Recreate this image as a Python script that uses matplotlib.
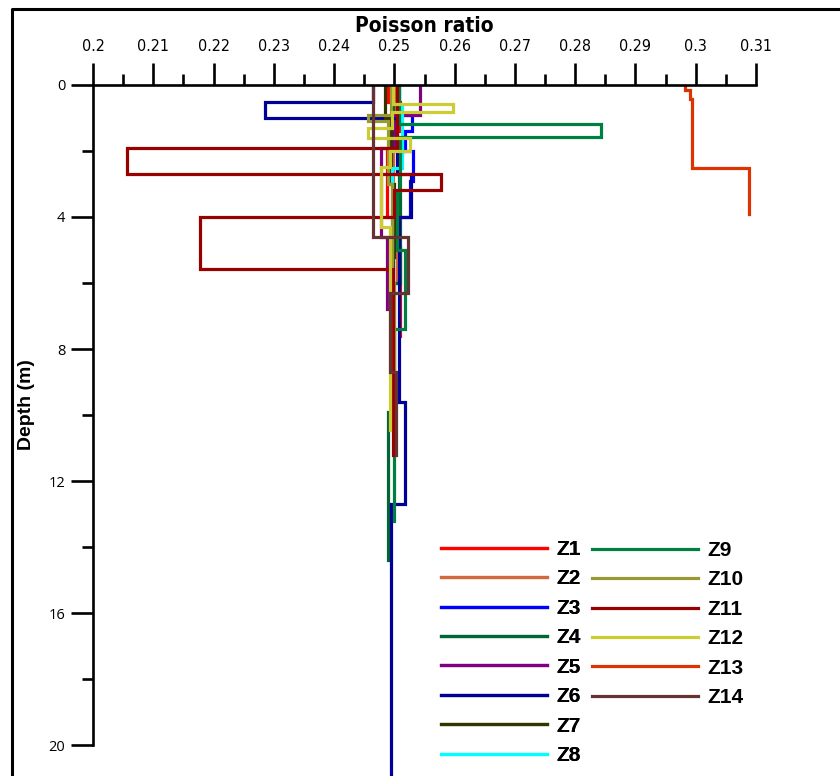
import numpy as np
import matplotlib
matplotlib.use("Agg")
from matplotlib import pyplot as plt
from matplotlib.lines import Line2D

# layer tops/bottoms (m) and Poisson ratio of each layer, per profile
names = ["Z1", "Z2", "Z3", "Z4", "Z5", "Z6", "Z7", "Z8",
         "Z9", "Z10", "Z11", "Z12", "Z13", "Z14"]
colors = ["#ff0000", "#d2693c", "#0000ff", "#006633", "#800080", "#000099", "#333300", "#00ffff",
          "#008040", "#999933", "#990000", "#cccc33", "#dd3300", "#663333"]

depths = {
    "Z1":  [0, 0.5, 1.4, 2.0, 4.0, 4.9, 7.6],
    "Z2":  [0, 1.5, 3.5, 6.0],
    "Z3":  [0, 0.9, 1.4, 2.0, 2.9, 4.0, 5.9],
    "Z4":  [0, 1.8, 3.2, 6.0, 9.9, 14.4],
    "Z5":  [0, 0.9, 1.9, 4.6, 6.8],
    "Z6":  [0, 0.5, 1.0, 2.7, 4.0, 9.6, 12.7, 21.5],
    "Z7":  [0, 1.0, 3.0, 5.2, 8.0],
    "Z8":  [0, 0.6, 2.5, 5.3],
    "Z9":  [0, 1.18, 1.58, 3.2, 5.0, 7.4, 13.2],
    "Z10": [0, 0.9, 1.1, 3.0, 6.0, 9.0],
    "Z11": [0, 1.9, 2.7, 3.18, 4.0, 5.58, 11.2],
    "Z12": [0, 0.58, 0.82, 1.3, 1.61, 2.0, 2.48, 4.3, 10.45],
    "Z13": [0, 0.15, 0.42, 2.52, 3.9],
    "Z14": [0, 4.6, 6.3, 8.7, 11.2],
}
ratios = {
    "Z1":  [0.2490, 0.2510, 0.2515, 0.2488, 0.2500, 0.2509],
    "Z2":  [0.2503, 0.2497, 0.2505],
    "Z3":  [0.2508, 0.2530, 0.2518, 0.2531, 0.2526, 0.2497],
    "Z4":  [0.2498, 0.2507, 0.2510, 0.2500, 0.2490],
    "Z5":  [0.2543, 0.2500, 0.2478, 0.2488],
    "Z6":  [0.2464, 0.2285, 0.2505, 0.2528, 0.2508, 0.2518, 0.2495],
    "Z7":  [0.2485, 0.2495, 0.2500, 0.2497],
    "Z8":  [0.2508, 0.2513, 0.2496],
    "Z9":  [0.2508, 0.2843, 0.2510, 0.2505, 0.2518, 0.2500],
    "Z10": [0.2495, 0.2456, 0.2490, 0.2496, 0.2500],
    "Z11": [0.2505, 0.2056, 0.2577, 0.2500, 0.2177, 0.2497],
    "Z12": [0.2497, 0.2597, 0.2496, 0.2456, 0.2526, 0.2492, 0.2478, 0.2492],
    "Z13": [0.2983, 0.2991, 0.2994, 0.3089],
    "Z14": [0.2464, 0.2523, 0.2493, 0.2503],
}

xticks = np.round(np.arange(0.2, 0.3101, 0.01), 2)
yticks = [0, 4, 8, 12, 16, 20]

fig = plt.figure(figsize=(8.4, 7.76), dpi=100)
ax = fig.add_axes([93 / 840, 0, 663 / 840, 691 / 776])

handles = []
for name, col in zip(names, colors):
    d = depths[name]
    v = ratios[name]
    xs, ys = [], []
    for i in range(len(v)):
        xs += [v[i], v[i]]
        ys += [d[i], d[i + 1]]
    ax.plot(xs, ys, color=col, lw=2.3, solid_joinstyle="miter")
    handles.append(Line2D([], [], color=col, lw=2.3))

ax.set_xlim(0.2, 0.31)
ax.set_ylim(691 / 33, 0)

# axes only on top and left, ticks pointing outwards
ax.spines["right"].set_visible(False)
ax.spines["bottom"].set_visible(False)
ax.spines["top"].set_linewidth(1.9)
ax.spines["left"].set_linewidth(1.9)
ax.spines["left"].set_bounds(0, 20)
ax.xaxis.tick_top()
ax.xaxis.set_label_position("top")
ax.set_xticks(xticks)
ax.set_xticklabels([f"{t:g}" for t in xticks])
ax.set_xticks(np.round(np.arange(0.205, 0.31, 0.01), 3), minor=True)
ax.set_yticks(yticks)
ax.set_yticks([2, 6, 10, 14, 18], minor=True)
ax.tick_params(axis="x", which="major", direction="out", length=16, width=1.9, pad=6,
               labelsize=11.5)
ax.tick_params(axis="x", which="minor", direction="out", length=8, width=1.9)
ax.tick_params(axis="y", which="major", direction="out", length=16, width=1.9, pad=4,
               labelsize=10.5)
ax.tick_params(axis="y", which="minor", direction="out", length=8, width=1.9)
for lab in ax.get_xticklabels():
    lab.set_family("DejaVu Sans")
    lab.set_stretch("condensed")
for lab in ax.get_yticklabels():
    lab.set_family(["Open Sans", "DejaVu Sans"])

ax.set_xlabel("Poisson ratio", fontsize=15, fontweight="bold", labelpad=5,
              family="DejaVu Sans", fontstretch="condensed")
fig.text(27 / 840, 1 - 405 / 776, "Depth (m)", rotation=90, ha="center", va="center",
         fontsize=14, fontweight="bold", family=["Liberation Sans", "DejaVu Sans"])

leg_font = {"family": "Liberation Sans", "weight": "bold", "size": 15}
leg1 = fig.legend(handles[:8], names[:8], loc="upper left",
                  bbox_to_anchor=(441 / 840, 1 - 540 / 776), frameon=False,
                  handlelength=5.1, handletextpad=0.45, labelspacing=0.5,
                  borderpad=0, borderaxespad=0, prop=leg_font)
leg2 = fig.legend(handles[8:], names[8:], loc="upper left",
                  bbox_to_anchor=(592 / 840, 1 - 541 / 776), frameon=False,
                  handlelength=5.1, handletextpad=0.45, labelspacing=0.5,
                  borderpad=0, borderaxespad=0, prop=leg_font)
fig.add_artist(leg1)

# outer frame: top and left edges
fig.add_artist(Line2D([12 / 840, 12 / 840, 1], [0, 1 - 9 / 776, 1 - 9 / 776],
                      color="black", lw=2.2, transform=fig.transFigure))

fig.savefig("out.png", dpi=100)
